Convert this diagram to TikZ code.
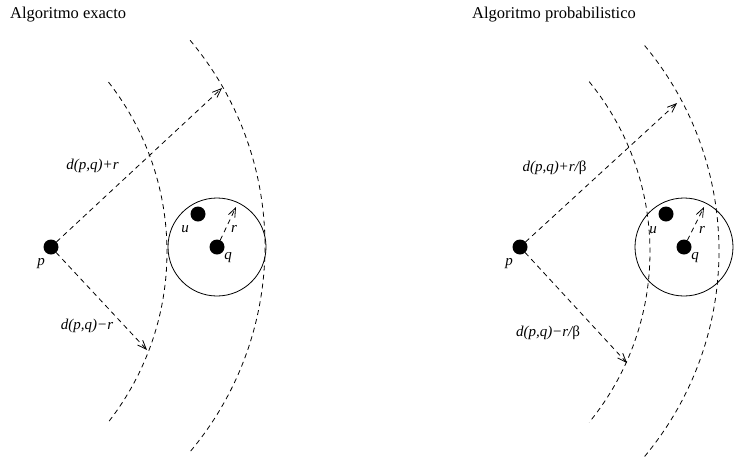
\documentclass[tikz,border=0pt]{standalone}
\usepackage{fontspec}
\setmainfont{Liberation Serif}
\usetikzlibrary{arrows.meta}

\begin{document}
\begin{tikzpicture}[x=1pt, y=-1pt,
  dot/.style={circle,fill=black,draw=none,minimum size=15pt,inner sep=0pt,outer sep=0pt},
  ball/.style={circle,draw,line width=0.8pt,minimum size=98pt,inner sep=0pt},
  lbl/.style={font=\fontsize{15}{18}\selectfont\itshape,inner sep=0pt},
  ttl/.style={font=\fontsize{16.5}{20}\selectfont,inner sep=0pt,anchor=west},
  band/.style={line width=0.8pt,dash pattern=on 5pt off 4pt},
  ray/.style={line width=0.8pt,dash pattern=on 5pt off 4pt,-{Straight Barb[length=9pt,width=7pt]}}
]
  \useasboundingbox (0,0) rectangle (734,464);

  % Algoritmo exacto
  \node[ttl] (t1) at (10,15) {Algoritmo exacto};
  \node[ball] (b1) at (217,247) {};
  \node[dot] (p1) at (51,247) {};
  \node[dot] (q1) at (217,247) {};
  \node[dot] (u1) at (198,214) {};
  \draw[band] (-109,252) ++(-38:276) arc[start angle=-38,end angle=38,radius=276];
  \draw[band] (-55,246) ++(-40:320) arc[start angle=-40,end angle=40,radius=320];
  \coordinate (a1) at (222,88);
  \coordinate (c1) at (147,350);
  \coordinate (r1) at (236,207);
  \draw[ray] (p1) -- (a1);
  \draw[ray] (p1) -- (c1);
  \draw[ray] (q1) -- (r1);
  \node[lbl] at (92.5,166) {d(p,q)+r};
  \node[lbl] at (87,326) {d(p,q)−r};
  \node[lbl] at (41,264) {p};
  \node[lbl] at (185,229) {u};
  \node[lbl] at (228,258) {q};
  \node[lbl] at (234,229) {r};

  % Algoritmo probabilistico
  \node[ttl] (t2) at (472,15) {Algoritmo probabilistico};
  \node[ball] (b2) at (684,247) {};
  \node[dot] (p2) at (520,247) {};
  \node[dot] (q2) at (684,247) {};
  \node[dot] (u2) at (666,214) {};
  \draw[band] (381,252) ++(-39.3:269) arc[start angle=-39.3,end angle=39.3,radius=269];
  \draw[band] (398,251) ++(-39.8:321) arc[start angle=-39.8,end angle=39.8,radius=321];
  \coordinate (a2) at (677,103);
  \coordinate (c2) at (627,363);
  \coordinate (r2) at (704,207);
  \draw[ray] (p2) -- (a2);
  \draw[ray] (p2) -- (c2);
  \draw[ray] (q2) -- (r2);
  \node[lbl] at (554.5,168) {d(p,q)+r/{\upshape β}};
  \node[lbl] at (548,333) {d(p,q)−r/{\upshape β}};
  \node[lbl] at (509,264) {p};
  \node[lbl] at (653,230) {u};
  \node[lbl] at (695,258) {q};
  \node[lbl] at (702,230) {r};
\end{tikzpicture}
\end{document}
